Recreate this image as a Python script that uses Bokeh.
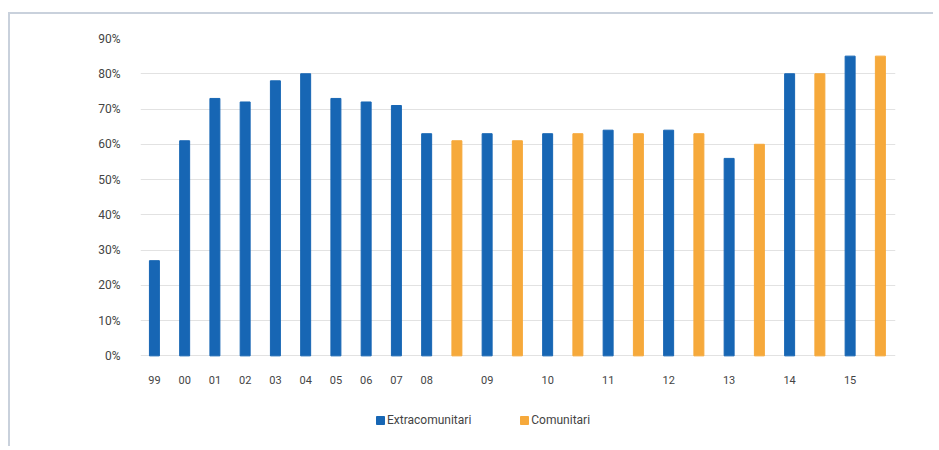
from bokeh.plotting import figure
from bokeh.models import ColumnDataSource, FixedTicker, NumeralTickFormatter, Legend, LegendItem, Range1d
from bokeh.embed import file_html
from bokeh.resources import INLINE

# ---- data ----
years_extra = ["99", "00", "01", "02", "03", "04", "05", "06", "07", "08",
               "09", "10", "11", "12", "13", "14", "15"]
extra_vals = [0.27, 0.61, 0.73, 0.72, 0.78, 0.80, 0.73, 0.72, 0.71, 0.63,
              0.63, 0.63, 0.64, 0.64, 0.56, 0.80, 0.85]
years_com = ["08", "09", "10", "11", "12", "13", "14", "15"]
com_vals = [0.61, 0.61, 0.63, 0.63, 0.63, 0.60, 0.80, 0.85]
y_ticks = [0, 0.1, 0.2, 0.3, 0.4, 0.5, 0.6, 0.7, 0.8, 0.9]

BLUE = "#1766b4"
ORANGE = "#f6a93b"
FONT = "Roboto"

# slot positions: single bars until 2008, then pairs (extra, comunitari)
first_pair = years_extra.index(years_com[0])
xpos_extra = [i if i <= first_pair else first_pair + 2 * (i - first_pair)
              for i in range(len(years_extra))]
xpos_com = [xpos_extra[years_extra.index(y)] + 1 for y in years_com]

src_e = ColumnDataSource(dict(x=xpos_extra, top=extra_vals, year=years_extra))
src_c = ColumnDataSource(dict(x=xpos_com, top=com_vals, year=years_com))

p = figure(width=925, height=434, output_backend="svg", toolbar_location=None,
           x_range=Range1d(-0.46, 24.5), y_range=Range1d(-0.24, 0.9),
           min_border_left=130, min_border_right=40, min_border_top=24,
           min_border_bottom=8)
p.styles = {"margin-left": "8px", "margin-top": "12px",
            "border-top": "2px solid #c9d1dc", "border-left": "2px solid #c9d1dc"}
p.outline_line_color = None
p.background_fill_color = "white"
p.border_fill_color = "white"

r1 = p.vbar(x="x", top="top", width=0.33, source=src_e, color=BLUE)
r2 = p.vbar(x="x", top="top", width=0.33, source=src_c, color=ORANGE)

# axes
p.xaxis.fixed_location = 0
p.xaxis.ticker = FixedTicker(ticks=xpos_extra)
p.xaxis.major_label_overrides = {x: y for x, y in zip(xpos_extra, years_extra)}
p.xaxis.axis_line_color = None
p.xaxis.major_tick_line_color = None
p.xaxis.minor_tick_line_color = None
p.xaxis.major_label_standoff = 14
p.xaxis.major_label_text_font = FONT
p.xaxis.major_label_text_font_size = "11px"
p.xaxis.major_label_text_color = "#444444"

p.yaxis.ticker = FixedTicker(ticks=y_ticks)
p.yaxis.formatter = NumeralTickFormatter(format="0%")
p.yaxis.axis_line_color = None
p.yaxis.major_tick_line_color = None
p.yaxis.minor_tick_line_color = None
p.yaxis.major_label_standoff = 14
p.yaxis.major_label_text_font = FONT
p.yaxis.major_label_text_font_size = "12px"
p.yaxis.major_label_text_color = "#444444"

p.xgrid.grid_line_color = None
p.ygrid.grid_line_color = "#e2e2e2"
p.ygrid.grid_line_width = 1

legend = Legend(items=[LegendItem(label="Extracomunitari", renderers=[r1]),
                       LegendItem(label="Comunitari", renderers=[r2])],
                orientation="horizontal", location=(235, 13),
                glyph_width=10, glyph_height=10, label_standoff=2, spacing=48,
                padding=0, margin=0, border_line_color=None,
                background_fill_alpha=0,
                label_text_font=FONT, label_text_font_size="12px",
                label_text_color="#444444")
p.add_layout(legend, "center")

open("out.html", "w").write(file_html(p, INLINE))
